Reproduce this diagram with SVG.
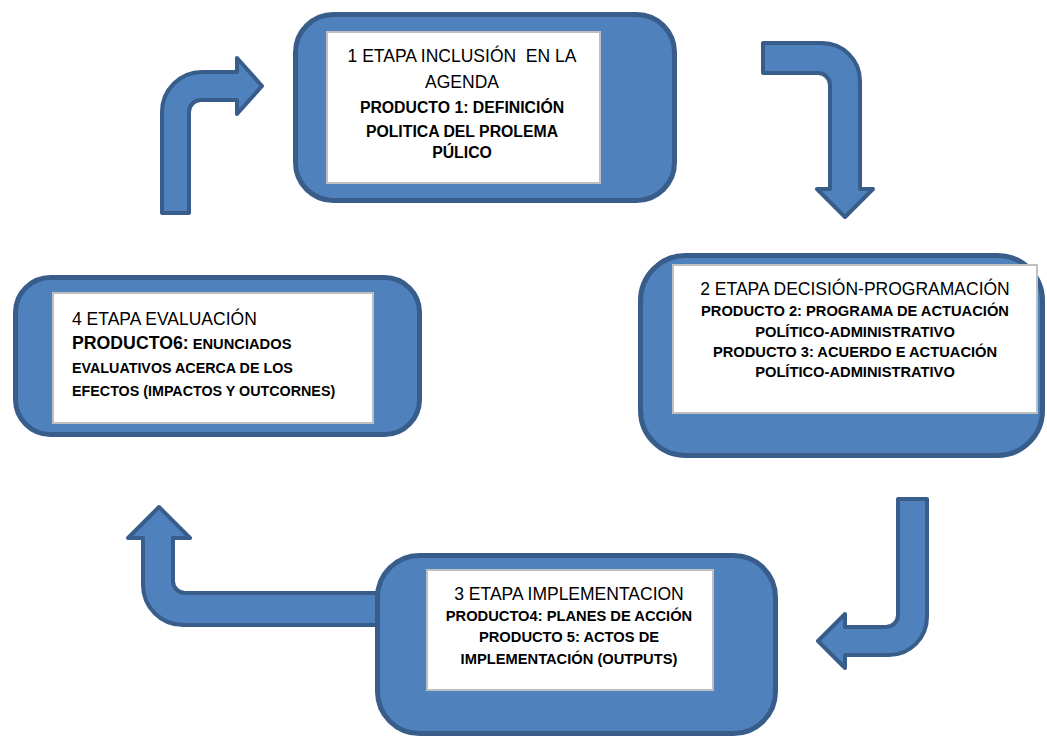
<svg xmlns="http://www.w3.org/2000/svg" width="1047" height="738" viewBox="0 0 1047 738">
<style>
.box{fill:#4f81bd;stroke:#385d8a;stroke-width:5}
.inner{fill:#ffffff;stroke:#bfbfbf;stroke-width:2}
.arrow{fill:#4f81bd;stroke:#385d8a;stroke-width:4;stroke-linejoin:round}
.reg{font-family:"Liberation Sans",Arial,sans-serif;font-size:17.5px;fill:#000}
.b{font-family:"Liberation Sans",Arial,sans-serif;font-size:14.7px;font-weight:bold;fill:#000}
.c{text-anchor:middle}
</style>
<rect width="1047" height="738" fill="#ffffff"/>
<g id="connectors">
<path class="arrow" d="M 162 213 L 162 112 A 40 40 0 0 1 202 72 L 237 72 L 237 58 L 262 86 L 237 114 L 237 100 L 201 100 A 12 12 0 0 0 189 112 L 189 213 Z"/>
<path class="arrow" d="M 763 43 L 822 43 A 38 38 0 0 1 860 81 L 860 189 L 873 189 L 845 217 L 817 189 L 830 189 L 830 85 A 12 12 0 0 0 818 73 L 763 73 Z"/>
<path class="arrow" d="M 898 499 L 927 499 L 927 617 A 38 38 0 0 1 889 655 L 845 655 L 845 668 L 818 641 L 845 614 L 845 627 L 886 627 A 12 12 0 0 0 898 615 Z"/>
<path class="arrow" d="M 159 507 L 190 538 L 173 538 L 173 581 A 12 12 0 0 0 185 593 L 385 593 L 385 625 L 183 625 A 40 40 0 0 1 143 585 L 143 538 L 128 538 Z"/>
</g>
<g id="node1">
<rect class="box" x="295.5" y="14.5" width="379" height="186" rx="38"/>
<rect class="inner" x="327" y="32" width="273" height="151"/>
<text class="reg c" x="462" y="62" xml:space="preserve" style="white-space:pre">1 ETAPA INCLUSIÓN  EN LA</text>
<text class="reg c" x="462" y="88">AGENDA</text>
<text class="b c" x="462" y="113" style="font-size:15.8px">PRODUCTO 1: DEFINICIÓN</text>
<text class="b c" x="462" y="137" style="font-size:15.8px">POLITICA DEL PROLEMA</text>
<text class="b c" x="462" y="158" style="font-size:15.8px">PÚLICO</text>
</g>
<g id="node2">
<rect class="box" x="640.5" y="255.5" width="402" height="200" rx="45"/>
<rect class="inner" x="673" y="265" width="364" height="148"/>
<text class="reg c" x="855" y="295">2 ETAPA DECISIÓN-PROGRAMACIÓN</text>
<text class="b c" x="855" y="316">PRODUCTO 2: PROGRAMA DE ACTUACIÓN</text>
<text class="b c" x="855" y="337">POLÍTICO-ADMINISTRATIVO</text>
<text class="b c" x="855" y="357">PRODUCTO 3: ACUERDO E ACTUACIÓN</text>
<text class="b c" x="855" y="377">POLÍTICO-ADMINISTRATIVO</text>
</g>
<g id="node3">
<rect class="box" x="377.5" y="555.5" width="398" height="178" rx="42"/>
<rect class="inner" x="427" y="570" width="286" height="120"/>
<text class="reg c" x="569" y="600">3 ETAPA IMPLEMENTACION</text>
<text class="b c" x="569" y="621">PRODUCTO4: PLANES DE ACCIÓN</text>
<text class="b c" x="569" y="642">PRODUCTO 5: ACTOS DE</text>
<text class="b c" x="569" y="664">IMPLEMENTACIÓN (OUTPUTS)</text>
</g>
<g id="node4">
<rect class="box" x="15.5" y="277.5" width="404" height="157" rx="35"/>
<rect class="inner" x="53" y="293" width="320" height="130"/>
<text class="reg" x="72" y="325">4 ETAPA EVALUACIÓN</text>
<text class="b" x="72" y="349"><tspan style="font-size:17.7px">PRODUCTO6:</tspan> ENUNCIADOS</text>
<text class="b" x="72" y="373" style="font-size:14.3px">EVALUATIVOS ACERCA DE LOS</text>
<text class="b" x="72" y="396" style="font-size:14.3px">EFECTOS (IMPACTOS Y OUTCORNES)</text>
</g>
</svg>
